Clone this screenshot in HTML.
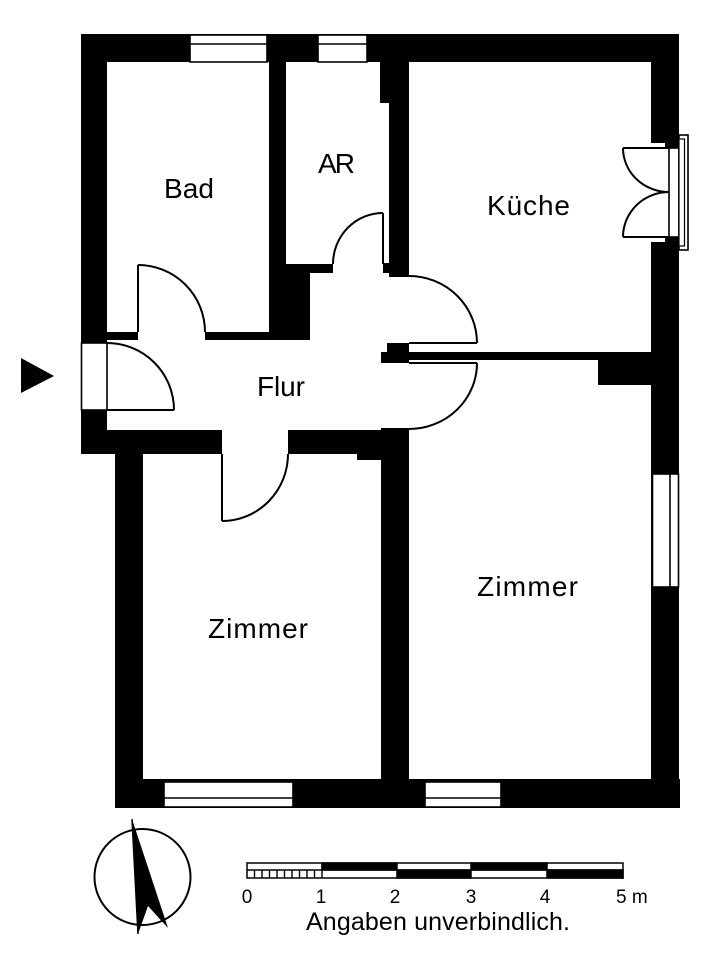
<!DOCTYPE html>
<html>
<head>
<meta charset="utf-8">
<style>
  html, body { margin: 0; padding: 0; background: #fff; }
  svg { display: block; }
  text { font-family: "Liberation Sans", Arial, sans-serif; fill: #000; }
</style>
</head>
<body>
<svg width="721" height="960" viewBox="0 0 721 960" xmlns="http://www.w3.org/2000/svg">
  <rect x="0" y="0" width="721" height="960" fill="#fff"/>

  <!-- WALLS -->
  <g fill="#000">
    <rect x="81" y="34" width="598" height="28"/>
    <rect x="81" y="34" width="26" height="309"/>
    <rect x="81" y="410" width="26" height="44"/>
    <rect x="269" y="34" width="17" height="306"/>
    <rect x="286" y="264" width="47" height="9"/>
    <rect x="269" y="273" width="41" height="67"/>
    <rect x="107" y="332" width="31" height="8"/>
    <rect x="205" y="332" width="64" height="8"/>
    <rect x="380" y="34" width="9" height="69"/>
    <rect x="383" y="263" width="6" height="10"/>
    <rect x="389" y="34" width="20" height="243"/>
    <rect x="387" y="343" width="22" height="20"/>
    <rect x="381" y="352" width="28" height="11"/>
    <rect x="409" y="352" width="242" height="8"/>
    <rect x="598" y="352" width="53" height="33"/>
    <rect x="651" y="34" width="28" height="109"/>
    <rect x="665" y="143" width="14" height="5"/>
    <rect x="665" y="237" width="14" height="5"/>
    <rect x="651" y="242" width="28" height="566"/>
    <rect x="81" y="430" width="141" height="24"/>
    <rect x="288" y="430" width="93" height="24"/>
    <rect x="357" y="454" width="24" height="6"/>
    <rect x="115" y="430" width="28" height="378"/>
    <rect x="381" y="428" width="28" height="380"/>
    <rect x="115" y="779" width="565" height="29"/>
  </g>

  <!-- WINDOWS -->
  <g fill="#fff" stroke="#000" stroke-width="1.6">
    <rect x="190" y="35" width="77" height="27"/>
    <line x1="190" y1="44" x2="267" y2="44"/>
    <rect x="318" y="35" width="49" height="27"/>
    <line x1="318" y1="44" x2="367" y2="44"/>
    <rect x="164" y="782" width="129" height="25"/>
    <line x1="164" y1="798" x2="293" y2="798"/>
    <rect x="425" y="782" width="76" height="25"/>
    <line x1="425" y1="798" x2="501" y2="798"/>
    <rect x="652.5" y="474" width="26" height="113"/>
    <line x1="670" y1="474" x2="670" y2="587"/>
    <rect x="81.5" y="343" width="25.5" height="67"/>
    <rect x="669" y="148" width="10" height="89"/>
    <rect x="679" y="135" width="9" height="115"/>
    <rect x="679" y="139" width="5.5" height="107" stroke-width="1.2"/>
  </g>

  <!-- DOORS -->
  <g fill="none" stroke="#000" stroke-width="2">
    <path d="M107,343 A67,67 0 0 1 174,410"/>
    <line x1="107" y1="410" x2="174" y2="410"/>
    <line x1="138" y1="332" x2="138" y2="265"/>
    <path d="M138,265 A67,67 0 0 1 205,332"/>
    <line x1="383" y1="264" x2="383" y2="213"/>
    <path d="M383,213 A50,51 0 0 0 333,264"/>
    <line x1="409" y1="343" x2="477" y2="343"/>
    <path d="M409,276 A68,67 0 0 1 477,343"/>
    <line x1="409" y1="363" x2="477" y2="363"/>
    <path d="M477,363 A68,66 0 0 1 409,429"/>
    <line x1="222" y1="454" x2="222" y2="521"/>
    <path d="M222,521 A66,67 0 0 0 288,454"/>
    <line x1="669" y1="148" x2="623" y2="148"/>
    <path d="M623,148 A46,44 0 0 0 669,192"/>
    <line x1="669" y1="237" x2="623" y2="237"/>
    <path d="M623,237 A46,45 0 0 1 669,192"/>
  </g>

  <polygon points="21,358 21,393 54,376" fill="#000"/>

  <!-- ROOM LABELS -->
  <g font-size="28">
    <text x="164" y="198" textLength="50" lengthAdjust="spacing">Bad</text>
    <text x="318" y="173" textLength="37" lengthAdjust="spacing">AR</text>
    <text x="487" y="215" textLength="83" lengthAdjust="spacing">Küche</text>
    <text x="257" y="396" textLength="48" lengthAdjust="spacing">Flur</text>
    <text x="208" y="638" textLength="100" lengthAdjust="spacing">Zimmer</text>
    <text x="477" y="596" textLength="101" lengthAdjust="spacing">Zimmer</text>
  </g>

  <!-- COMPASS -->
  <circle cx="142.5" cy="877" r="48" fill="none" stroke="#000" stroke-width="2"/>
  <polygon points="132,819 168,928 148,906 138,934" fill="#000"/>
  <line x1="132" y1="819" x2="138" y2="934" stroke="#000" stroke-width="1.5"/>

  <!-- SCALE BAR -->
  <g stroke="#000" stroke-width="1.5">
    <rect x="247" y="863" width="376" height="15" fill="#fff"/>
    <rect x="322" y="863" width="75" height="7" fill="#000"/>
    <rect x="471" y="863" width="76" height="7" fill="#000"/>
    <rect x="397" y="870" width="74" height="8" fill="#000"/>
    <rect x="547" y="870" width="76" height="8" fill="#000"/>
    <line x1="247" y1="870" x2="623" y2="870"/>
  </g>
  <g stroke="#000" stroke-width="1.4">
    <line x1="254.5" y1="870" x2="254.5" y2="878"/>
    <line x1="262" y1="870" x2="262" y2="878"/>
    <line x1="269.5" y1="870" x2="269.5" y2="878"/>
    <line x1="277" y1="870" x2="277" y2="878"/>
    <line x1="284.5" y1="870" x2="284.5" y2="878"/>
    <line x1="292" y1="870" x2="292" y2="878"/>
    <line x1="299.5" y1="870" x2="299.5" y2="878"/>
    <line x1="307" y1="870" x2="307" y2="878"/>
    <line x1="314.5" y1="870" x2="314.5" y2="878"/>
    <line x1="322" y1="863" x2="322" y2="878"/>
  </g>
  <g font-size="19" text-anchor="middle">
    <text x="247" y="903">0</text>
    <text x="321" y="903">1</text>
    <text x="395" y="903">2</text>
    <text x="471" y="903">3</text>
    <text x="545" y="903">4</text>
  </g>
  <text x="616" y="903" font-size="19">5 m</text>
  <text x="306" y="930" font-size="25" textLength="264" lengthAdjust="spacing">Angaben unverbindlich.</text>
</svg>
</body>
</html>
